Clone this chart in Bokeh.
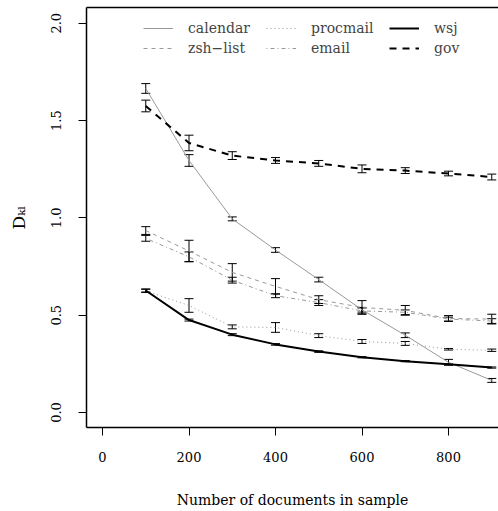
from bokeh.plotting import figure
from bokeh.models import (ColumnDataSource, Whisker, TeeHead, FixedTicker, LinearAxis,
                          Legend, LegendItem, Range1d, NumeralTickFormatter)
from bokeh.embed import file_html
from bokeh.resources import INLINE

# ---------------- data ----------------
sizes = [100, 200, 300, 400, 500, 600, 700, 800, 900]

calendar = [1.665, 1.295, 0.995, 0.835, 0.683, 0.528, 0.397, 0.258, 0.165]
calendar_err = [0.025, 0.03, 0.01, 0.012, 0.012, 0.012, 0.012, 0.015, 0.01]

zsh_list = [0.935, 0.83, 0.72, 0.648, 0.58, 0.54, 0.525, 0.483, 0.48]
zsh_list_err = [0.02, 0.055, 0.045, 0.04, 0.02, 0.035, 0.025, 0.015, 0.025]

procmail = [0.625, 0.55, 0.44, 0.437, 0.395, 0.365, 0.355, 0.325, 0.32]
procmail_err = [0.008, 0.035, 0.01, 0.025, 0.01, 0.01, 0.01, 0.004, 0.006]

email = [0.895, 0.80, 0.68, 0.60, 0.565, 0.522, 0.515, 0.48, 0.47]
email_err = [0.015, 0.025, 0.015, 0.01, 0.015, 0.015, 0.012, 0.01, 0.012]

wsj = [0.627, 0.475, 0.40, 0.35, 0.313, 0.284, 0.264, 0.248, 0.231]
wsj_err = [0.008, 0.005, 0.005, 0.004, 0.004, 0.003, 0.003, 0.003, 0.003]

gov = [1.575, 1.385, 1.32, 1.295, 1.28, 1.252, 1.243, 1.228, 1.21]
gov_err = [0.03, 0.04, 0.02, 0.015, 0.015, 0.02, 0.015, 0.012, 0.015]

x_ticks = [0, 200, 400, 600, 800]
y_ticks = [0.0, 0.5, 1.0, 1.5, 2.0]
x_title = "Number of documents in sample"
y_title = "D\u2096\u2097"   # D with subscript kl

# ---------------- layout ----------------
W, H = 498, 511
FL, FT, FB = 86, 7, 427           # frame left / top / bottom (px)
X_START, X_END = -37.0, 915.6
Y_START, Y_END = -0.077, 2.081
FONT = "DejaVu Serif"
GRAY = "#999999"

p = figure(width=W, height=H, output_backend="svg", toolbar_location=None,
           x_range=Range1d(X_START, X_END), y_range=Range1d(Y_START, Y_END),
           min_border_left=FL, min_border_right=0, min_border_top=FT,
           min_border_bottom=H - FB)
p.grid.visible = False
p.outline_line_color = None
p.background_fill_color = "white"
p.border_fill_color = "white"

# axes
for ax in (p.xaxis[0], p.yaxis[0]):
    ax.axis_line_width = 1.5
    ax.axis_line_color = "black"
    ax.major_tick_out = 8
    ax.major_tick_in = 0
    ax.minor_tick_line_color = None
    ax.major_tick_line_color = "black"
    ax.major_label_text_font = FONT
    ax.major_label_text_font_size = "13px"
    ax.major_label_text_color = "black"
    ax.axis_label_text_font = FONT
    ax.axis_label_text_font_style = "normal"
    ax.axis_label_text_color = "black"

p.xaxis.ticker = FixedTicker(ticks=x_ticks)
p.xaxis.major_label_standoff = 16
p.xaxis.axis_label = x_title
p.xaxis.axis_label_text_font_size = "14px"
p.xaxis.axis_label_standoff = 27

p.yaxis.ticker = FixedTicker(ticks=y_ticks)
p.yaxis.formatter = NumeralTickFormatter(format="0.0")
p.yaxis.major_label_orientation = "parallel"
p.yaxis.major_label_standoff = 17
p.yaxis.axis_label = y_title
p.yaxis.axis_label_text_font_size = "17px"
p.yaxis.axis_label_standoff = 20

top = LinearAxis(ticker=FixedTicker(ticks=[]), major_label_text_font_size="0px",
                 axis_line_width=1.5, major_tick_out=0, major_tick_in=0,
                 minor_tick_out=0, minor_tick_in=0, major_label_standoff=0)
p.add_layout(top, "above")

# ---------------- series ----------------
series = [
    ("calendar", calendar, calendar_err, GRAY, 1, None),
    ("zsh\u2212list", zsh_list, zsh_list_err, GRAY, 1, "4 4"),
    ("procmail", procmail, procmail_err, GRAY, 1, "1 3"),
    ("email", email, email_err, GRAY, 1, "1 3 4 3"),
    ("wsj", wsj, wsj_err, "black", 2, None),
    ("gov", gov, gov_err, "black", 2, "7 6"),
]

items = []
for name, vals, errs, color, lw, dash in series:
    src = ColumnDataSource(dict(x=sizes, y=vals,
                                lo=[v - e for v, e in zip(vals, errs)],
                                hi=[v + e for v, e in zip(vals, errs)]))
    kw = dict(line_color=color, line_width=lw)
    if dash:
        kw["line_dash"] = dash
    r = p.line("x", "y", source=src, **kw)
    items.append(LegendItem(label=name, renderers=[r]))
    w = Whisker(base="x", upper="hi", lower="lo", source=src,
                line_color="black", line_width=1,
                upper_head=TeeHead(size=9, line_color="black", line_width=1),
                lower_head=TeeHead(size=9, line_color="black", line_width=1))
    p.add_layout(w)

legend = Legend(items=items, ncols=3, location=(143 - FL, FB - 58),
                label_text_font=FONT, label_text_font_size="14px",
                glyph_width=30, glyph_height=20, label_height=20,
                label_width=78, label_standoff=15, spacing=0, padding=0,
                margin=0, background_fill_alpha=0, border_line_color=None)
p.add_layout(legend, "center")

open("out.html", "w").write(file_html(p, INLINE))
